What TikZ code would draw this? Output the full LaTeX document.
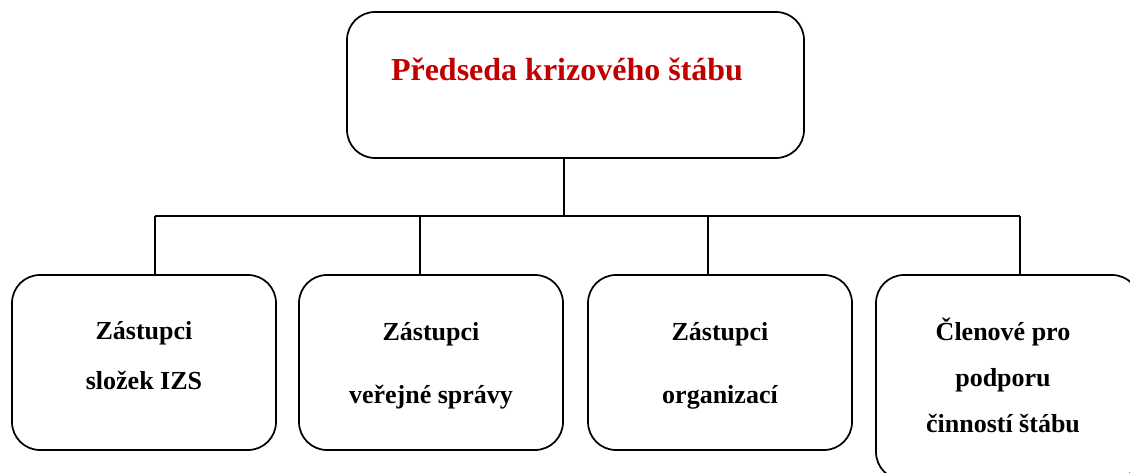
\documentclass[tikz,border=0pt]{standalone}
\usepackage{fontspec}
\setmainfont{Liberation Serif}
\usetikzlibrary{positioning}
\definecolor{stabred}{HTML}{C00000}

\tikzset{
  orgbox/.style={draw, line width=1.3pt, rounded corners=21pt, inner sep=0pt,
    minimum width=198pt, minimum height=131.25pt},
  headtext/.style={font=\bfseries\fontsize{24}{28}\selectfont, text=stabred, anchor=base},
  boxtext/.style={font=\bfseries\fontsize{19.5}{36.75}\selectfont, align=center, anchor=base},
  link/.style={line width=1.1pt}
}

\begin{document}
\begin{tikzpicture}[x=0.75pt, y=-0.75pt]

  \newcommand\YBUS{216};
  \newcommand\YROW{362.5};

  \useasboundingbox (0,0) rectangle (1130,473);
  \clip (0,0) rectangle (1130,473);

  % chairman
  \node[orgbox, minimum width=342.75pt, minimum height=109.5pt] (head) at (575.5,85) {};
  \node[headtext] (headlbl) at (567,81) {Předseda krizového štábu};

  % members (text anchored on the last line)
  \node[orgbox] (izs) at (144,\YROW) {};
  \node[orgbox] (verejna) at (431,\YROW) {};
  \node[orgbox] (org) at (720,\YROW) {};
  \node[orgbox, minimum height=153.75pt] (podpora) at (1008,377.5) {};

  \node[boxtext] (izslbl) at (144,389) {Zástupci\\složek IZS};
  \node[boxtext] (verejnalbl) at (431,403) {Zástupci\\[10.5pt]veřejné správy};
  \node[boxtext] (orglbl) at (720,403) {Zástupci\\[10.5pt]organizací};
  \node[boxtext] (podporalbl) at (1003,432) {Členové pro\\[-2.25pt]podporu\\[-2.25pt]činností štábu};

  % tree lines
  \coordinate (bus) at (564,\YBUS);
  \coordinate (busA) at (155,\YBUS);
  \coordinate (busB) at (420,\YBUS);
  \coordinate (busC) at (708,\YBUS);
  \coordinate (busD) at (1020,\YBUS);

  \draw[link] (head.south -| bus) -- (bus);
  \draw[link] (busA) -- (busD);
  \draw[link] (busA) -- (busA |- izs.north);
  \draw[link] (busB) -- (busB |- verejna.north);
  \draw[link] (busC) -- (busC |- org.north);
  \draw[link] (busD) -- (busD |- podpora.north);

\end{tikzpicture}
\end{document}
